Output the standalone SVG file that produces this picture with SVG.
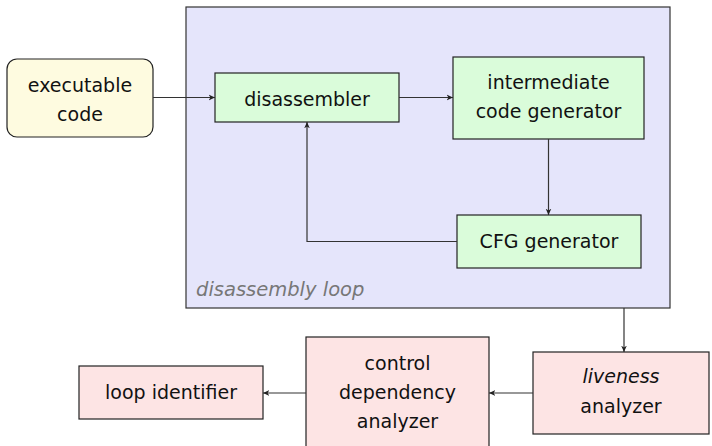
<svg xmlns="http://www.w3.org/2000/svg" width="712" height="446" viewBox="0 0 712 446">
<defs>
<style>
text{font-family:"DejaVu Sans","Liberation Sans",sans-serif;font-size:19px;fill:#111;text-anchor:middle}
.box{stroke:#222;stroke-width:1.2}
.green{fill:#dafcda}
.pink{fill:#fde4e4}
.yellow{fill:#fefbe0}
.loop{fill:#e5e5fb;stroke:#333;stroke-width:1.2}
.lbl{fill:#777;font-style:italic;text-anchor:start;font-size:19.5px}
.conn{fill:none;stroke:#333;stroke-width:1.2;marker-end:url(#ah)}
</style>
<marker id="ah" viewBox="0 0 10 10" refX="9" refY="5" markerWidth="7" markerHeight="7" markerUnits="userSpaceOnUse" orient="auto">
<path d="M0,1 L9,5 L0,9 L2.5,5 Z" fill="#222"/>
</marker>
</defs>
<g id="loop-container">
<rect class="loop" x="186" y="7" width="484" height="301"/>
<text class="lbl" x="196" y="296">disassembly loop</text>
</g>
<g id="executable">
<rect class="box yellow" x="7" y="59" width="146" height="78" rx="10"/>
<text x="80" y="92">executable</text>
<text x="80" y="121">code</text>
</g>
<g id="disassembler">
<rect class="box green" x="215" y="73" width="184" height="49"/>
<text x="307" y="106">disassembler</text>
</g>
<g id="intermediate">
<rect class="box green" x="453" y="57" width="191" height="82"/>
<text x="548.5" y="89">intermediate</text>
<text x="548.5" y="118">code generator</text>
</g>
<g id="cfg">
<rect class="box green" x="457" y="215" width="184" height="53"/>
<text x="549" y="248">CFG generator</text>
</g>
<g id="liveness">
<rect class="box pink" x="533" y="352" width="176" height="82"/>
<text x="621" y="383" font-style="italic">liveness</text>
<text x="621" y="413">analyzer</text>
</g>
<g id="control">
<rect class="box pink" x="306" y="337" width="183" height="115"/>
<text x="397.5" y="370">control</text>
<text x="397.5" y="399">dependency</text>
<text x="397.5" y="428">analyzer</text>
</g>
<g id="loopid">
<rect class="box pink" x="79" y="366" width="184" height="53"/>
<text x="171" y="399">loop identifier</text>
</g>
<g id="connectors">
<path class="conn" d="M153,97.5 H215"/>
<path class="conn" d="M399,97.5 H453"/>
<path class="conn" d="M548.5,139 V215"/>
<path class="conn" d="M457,241.5 H307 V122"/>
<path class="conn" d="M624,308 V352"/>
<path class="conn" d="M533,393 H489"/>
<path class="conn" d="M306,393 H263"/>
</g>
</svg>
